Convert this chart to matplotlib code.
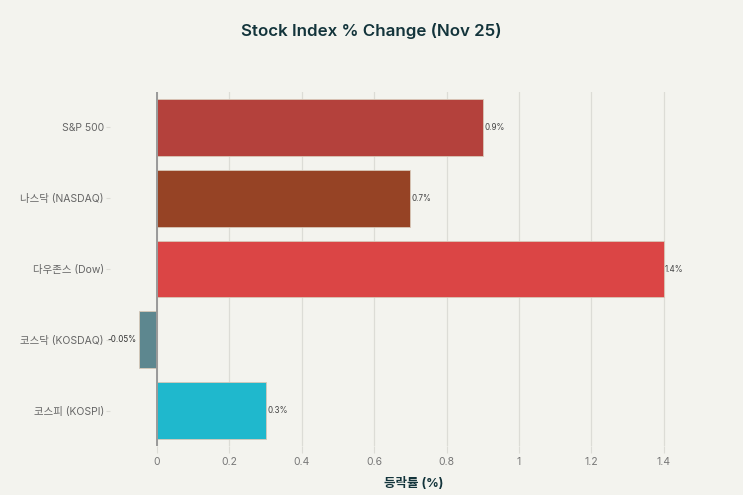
import numpy as np
import matplotlib.pyplot as plt

plt.rcParams['font.family'] = ['Inter', 'Noto Sans CJK KR', 'DejaVu Sans']

# ── data ────────────────────────────────────────────────
Indices = ["S&P 500", "나스닥 (NASDAQ)", "다우존스 (Dow)", "코스닥 (KOSDAQ)", "코스피 (KOSPI)"]
Changes = [0.9, 0.7, 1.4, -0.05, 0.3]
Labels  = ["0.9%", "0.7%", "1.4%", "-0.05%", "0.3%"]
Colors  = ["#B4413C", "#964325", "#DB4545", "#5D878F", "#1FB8CD"]
X_ticks = [0, 0.2, 0.4, 0.6, 0.8, 1.0, 1.2, 1.4]
X_tick_labels = ["0", "0.2", "0.4", "0.6", "0.8", "1", "1.2", "1.4"]

BG = "#F3F3EE"

fig = plt.figure(figsize=(7.43, 4.95), dpi=100, facecolor=BG)
ax = fig.add_axes([110 / 743, 1 - 446 / 495, (718 - 110) / 743, (446 - 92) / 495])
ax.set_facecolor(BG)

y = np.arange(len(Indices))
ax.barh(y, Changes, height=0.8, color=Colors, edgecolor="#D8C8B8", linewidth=0.6, zorder=3)

for yi, v, lab in zip(y, Changes, Labels):
    if v >= 0:
        ax.text(v + 0.004, yi, lab, va="center", ha="left", fontsize=5.8, color="#444444", zorder=4)
    else:
        ax.text(v - 0.006, yi, lab, va="center", ha="right", fontsize=5.8, color="#333333", zorder=4)

ax.axvline(0, color="#999999", lw=1.4, zorder=4)

ax.set_xlim(-0.13, 1.55)
ax.set_ylim(len(Indices) - 0.5, -0.5)
ax.set_xticks(X_ticks)
ax.set_xticklabels(X_tick_labels)
ax.set_yticks(y)
ax.set_yticklabels(Indices)
ax.grid(True, axis="x", color="#DCDCD6", lw=0.9, zorder=0)

ax.tick_params(axis="x", length=5, color="#DCDCD6", labelsize=7.5, labelcolor="#777777", pad=3)
ax.tick_params(axis="y", length=3, color="#DCDCD6", labelsize=7.5, labelcolor="#666666", pad=1.5)
for s in ax.spines.values():
    s.set_visible(False)

ax.set_xlabel("등락률 (%)", fontsize=9, fontweight="bold", color="#13343B", labelpad=7)
fig.text(0.5, 1 - 31 / 495, "Stock Index % Change (Nov 25)", ha="center", va="center",
         fontsize=12.2, fontweight="semibold", color="#13343B")

fig.savefig("out.png", dpi=100, facecolor=BG)
